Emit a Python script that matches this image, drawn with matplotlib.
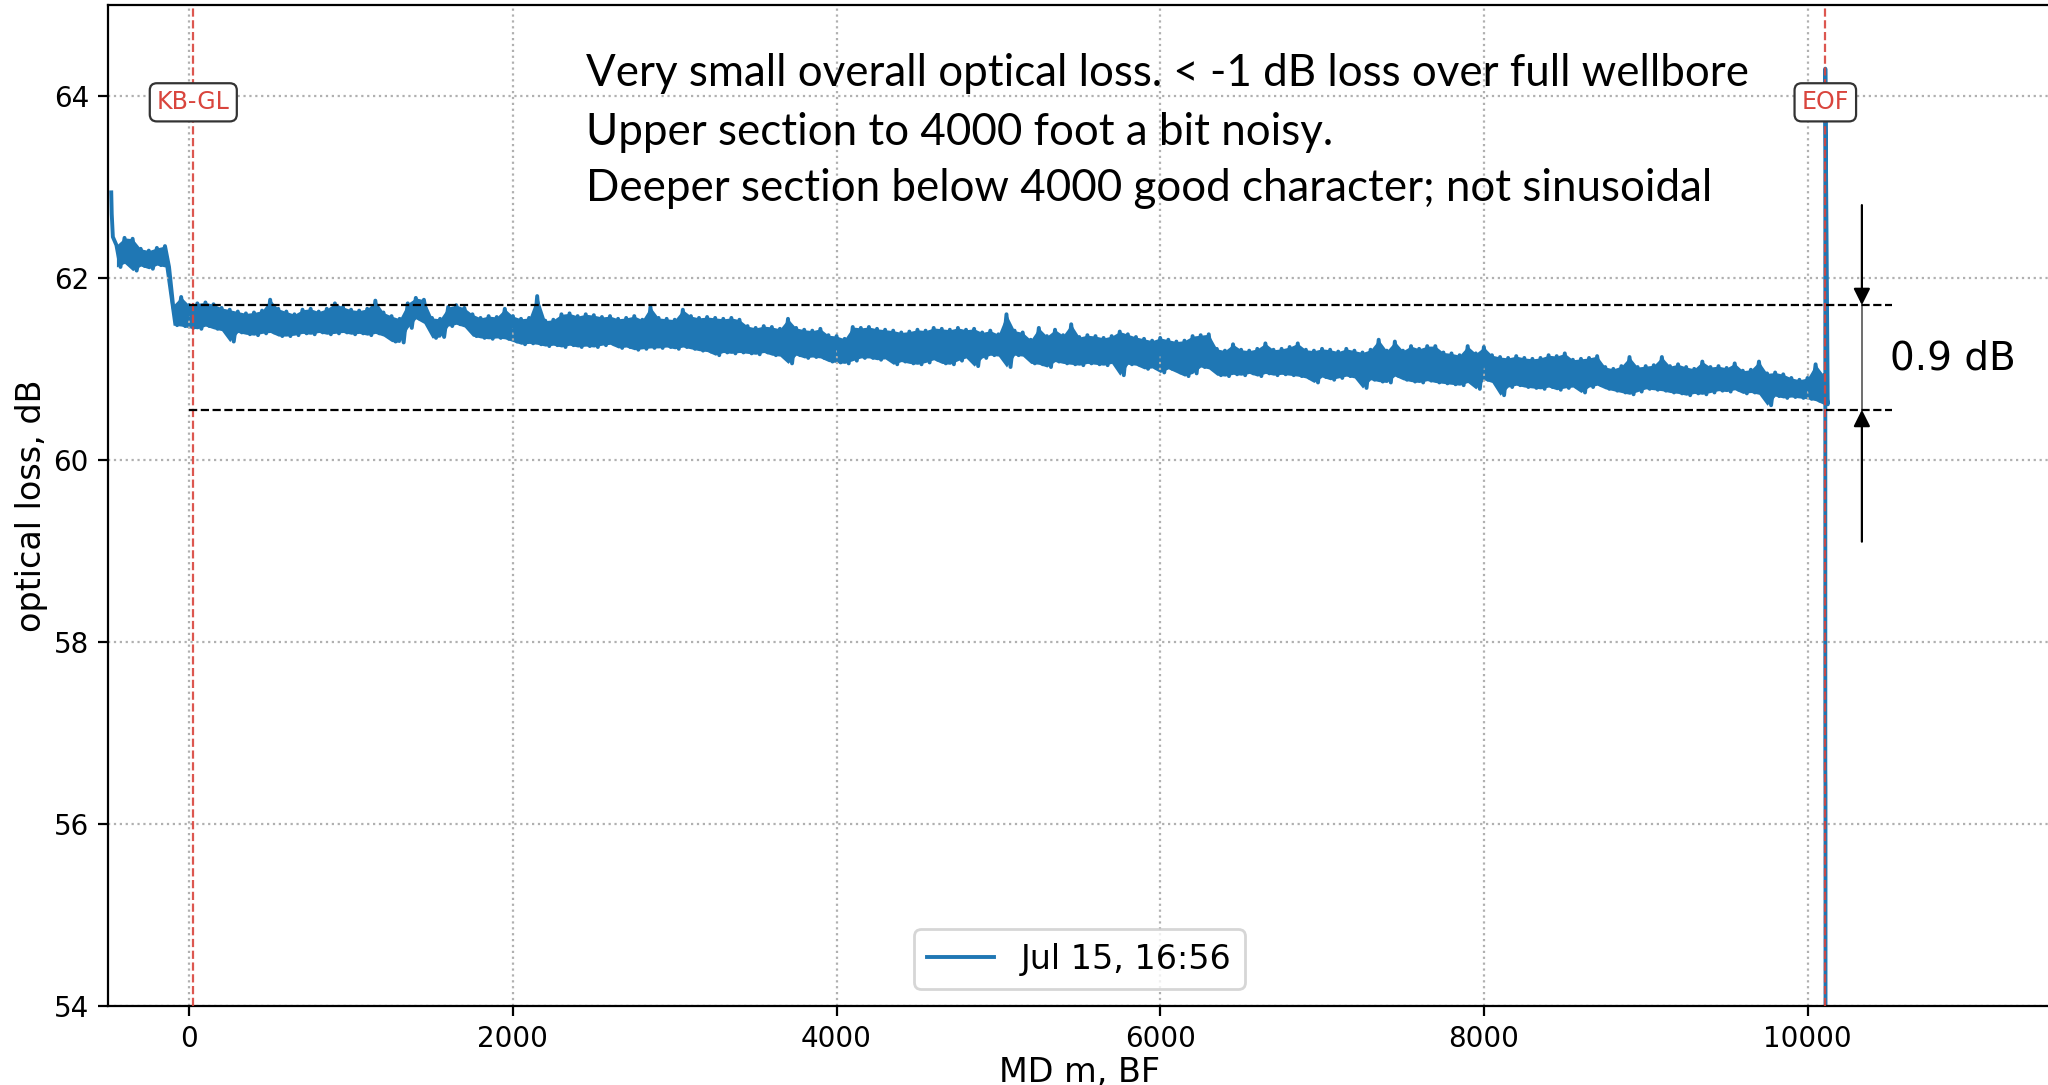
import numpy as np
import matplotlib.pyplot as plt

# optical loss trace, read off the plot as upper / lower edge of the noisy band
# every 50 m from -450 m to 10100 m (lower edge sits 25 m after the upper one)
md_start, md_stop, md_step = -450, 10100, 50

loss_top = [
    62.36, 62.44, 62.43, 62.32, 62.30, 62.33, 62.35,
    61.70, 61.79, 61.70, 61.72, 61.73, 61.71, 61.67, 61.65, 61.63, 61.61, 61.62, 61.64, 61.76, 61.66, 61.63,
    61.60, 61.65, 61.66, 61.63, 61.66, 61.72, 61.68, 61.65, 61.64, 61.66, 61.75, 61.62, 61.58, 61.55, 61.72,
    61.78, 61.76, 61.56, 61.55, 61.68, 61.70, 61.67, 61.60, 61.56, 61.58, 61.57, 61.66, 61.58, 61.55, 61.56,
    61.80, 61.53, 61.54, 61.60, 61.61, 61.58, 61.60, 61.59, 61.57, 61.58, 61.55, 61.56, 61.58, 61.54, 61.68,
    61.56, 61.55, 61.54, 61.65, 61.58, 61.56, 61.57, 61.56, 61.55, 61.56, 61.54, 61.47, 61.45, 61.47, 61.46,
    61.44, 61.55, 61.45, 61.43, 61.42, 61.44, 61.37, 61.36, 61.33, 61.46, 61.45, 61.46, 61.44, 61.43, 61.42,
    61.40, 61.41, 61.43, 61.42, 61.45, 61.44, 61.43, 61.45,
    61.43, 61.44, 61.40, 61.42, 61.38, 61.60, 61.42, 61.40, 61.32, 61.45, 61.36, 61.43, 61.37, 61.49, 61.35,
    61.37, 61.36, 61.34, 61.36, 61.41, 61.38, 61.35, 61.33, 61.31, 61.34, 61.32, 61.30, 61.31, 61.36, 61.37,
    61.38, 61.22, 61.20, 61.27, 61.21, 61.20, 61.22, 61.28, 61.21, 61.22, 61.24, 61.28, 61.21, 61.20, 61.22,
    61.21, 61.19, 61.22, 61.20, 61.18, 61.21, 61.32, 61.20,
    61.30, 61.20, 61.25, 61.22, 61.25, 61.25, 61.18, 61.17, 61.15, 61.25, 61.17, 61.24, 61.15, 61.13, 61.12,
    61.14, 61.12, 61.11, 61.12, 61.15, 61.14, 61.17, 61.10, 61.11, 61.12, 61.14, 61.02, 61.00, 61.03, 61.13,
    61.02, 61.03, 61.04, 61.13, 61.03, 61.05, 61.02, 61.00, 61.08, 61.02, 61.03, 61.01, 61.06, 60.98, 60.99,
    61.08, 60.95, 60.96, 60.94, 60.90, 60.88, 60.90, 61.05, 60.93,
]
loss_bottom = [
    62.12, 62.16, 62.08, 62.13, 62.10, 62.14, 62.12,
    61.48, 61.47, 61.45, 61.44, 61.47, 61.44, 61.42, 61.30, 61.40, 61.38, 61.37, 61.39, 61.40, 61.36, 61.36,
    61.37, 61.39, 61.38, 61.40, 61.38, 61.39, 61.40, 61.38, 61.39, 61.37, 61.39, 61.36, 61.30, 61.29, 61.45,
    61.55, 61.50, 61.34, 61.35, 61.47, 61.49, 61.46, 61.36, 61.34, 61.33, 61.34, 61.33, 61.30, 61.27, 61.28,
    61.27, 61.25, 61.26, 61.24, 61.26, 61.24, 61.25, 61.24, 61.26, 61.27, 61.23, 61.24, 61.21, 61.22, 61.23,
    61.23, 61.24, 61.22, 61.24, 61.22, 61.20, 61.19, 61.15, 61.18, 61.17, 61.18, 61.17, 61.16, 61.18, 61.15,
    61.14, 61.06, 61.15, 61.12, 61.13, 61.12, 61.08, 61.07, 61.06, 61.09, 61.12, 61.12, 61.10, 61.11, 61.05,
    61.08, 61.06, 61.05, 61.07, 61.10, 61.06, 61.05, 61.09,
    61.12, 61.03, 61.12, 61.15, 61.14, 61.02, 61.15, 61.14, 61.06, 61.05, 61.02, 61.08, 61.06, 61.05, 61.04,
    61.06, 61.05, 61.04, 61.06, 60.93, 61.05, 61.04, 61.00, 61.01, 60.96, 61.00, 60.96, 60.92, 60.95, 61.02,
    61.00, 60.93, 60.92, 60.94, 60.93, 60.95, 60.92, 60.95, 60.93, 60.94, 60.93, 60.92, 60.90, 60.85, 60.91,
    60.88, 60.90, 60.92, 60.90, 60.79, 60.88, 60.86, 60.85,
    60.92, 60.88, 60.86, 60.85, 60.87, 60.85, 60.84, 60.83, 60.82, 60.85, 60.78, 60.88, 60.85, 60.71, 60.80,
    60.82, 60.80, 60.79, 60.78, 60.80, 60.77, 60.79, 60.80, 60.74, 60.80, 60.82, 60.78, 60.76, 60.74, 60.72,
    60.75, 60.78, 60.77, 60.76, 60.74, 60.73, 60.71, 60.73, 60.72, 60.74, 60.76, 60.75, 60.77, 60.73, 60.74,
    60.72, 60.60, 60.70, 60.68, 60.69, 60.68, 60.67, 60.65, 60.61,
]

# start spike and the end of fibre drop
head_md = [-482, -479, -472]
head_loss = [62.94, 62.70, 62.45]
tail_md = [10110, 10110, 10111, 10112]
tail_loss = [64.30, 56.60, 56.40, 45.0]

# depth markers
marker_md = [25, 10110]
marker_name = ['KB-GL', 'EOF']

# 0.9 dB annotation
level_hi, level_lo = 61.70, 60.55
level_md = [0, 10520]
arrow_md = 10336
arrow_from_hi, arrow_from_lo = 62.80, 59.10

notes = [
    'Very small overall optical loss. < -1 dB loss over full wellbore',
    'Upper section to 4000 foot a bit noisy.',
    'Deeper section below 4000 good character; not sinusoidal',
]
notes_md = 2451
notes_loss = [64.25, 63.60, 62.98]

label = 'Jul 15, 16:56'

# build trace
md_band = np.arange(md_start, md_stop + 1, md_step)
assert len(md_band) == len(loss_top) == len(loss_bottom)
band_x = np.column_stack([md_band, md_band + md_step / 2]).ravel()
band_y = np.column_stack([loss_top, loss_bottom]).ravel()
md = np.concatenate([head_md, band_x, tail_md])
loss = np.concatenate([head_loss, band_y, tail_loss])

fig = plt.figure(figsize=(10.24, 5.425), dpi=200)
ax = fig.add_axes([0.0529, 0.0732, 0.9482, 0.9222])

# noise band fill + the trace itself
ax.fill_between(md_band, loss_bottom, loss_top, color='tab:blue', lw=0)
ax.plot(md, loss, color='tab:blue', lw=1.4, label=label)

red = '#d9453d'
for x, name in zip(marker_md, marker_name):
    ax.axvline(x, color=red, ls='--', lw=0.8, alpha=0.9, zorder=3)
    ax.text(x, 63.93, name, color=red, fontsize=8.5, ha='center', va='center', zorder=4,
            bbox=dict(boxstyle='round,pad=0.3', fc='white', ec='#333333', lw=0.8))

ax.hlines([level_hi, level_lo], level_md[0], level_md[1], colors='black', linestyles='--', lw=0.8, zorder=4)
ax.plot([arrow_md, arrow_md], [level_lo, level_hi], color='#555555', lw=0.6)
arrow_kw = dict(arrowstyle='-|>,head_length=0.5,head_width=0.25', color='black', lw=0.8, shrinkA=0, shrinkB=0)
ax.annotate('', xy=(arrow_md, level_hi), xytext=(arrow_md, arrow_from_hi), arrowprops=arrow_kw)
ax.annotate('', xy=(arrow_md, level_lo), xytext=(arrow_md, arrow_from_lo), arrowprops=arrow_kw)
ax.text(10508, 61.11, '0.9 dB', fontsize=14, ha='left', va='center')

for txt, y in zip(notes, notes_loss):
    ax.text(notes_md, y, txt, fontsize=15.8, family=['Lato', 'DejaVu Sans'], ha='left', va='center')

ax.set_xlim(-500, 11500)
ax.set_ylim(54, 65)
ax.set_xticks([0, 2000, 4000, 6000, 8000, 10000])
ax.set_yticks([54, 56, 58, 60, 62, 64])
ax.tick_params(labelsize=10)
ax.grid(True, ls=':', color='#b0b0b0', lw=0.8)
ax.spines['right'].set_visible(False)
ax.set_xlabel('MD m, BF', fontsize=12, labelpad=1)
ax.set_ylabel('optical loss, dB', fontsize=12, labelpad=2)
ax.legend(loc='lower center', fontsize=12)

fig.savefig('out.png', dpi=200)
